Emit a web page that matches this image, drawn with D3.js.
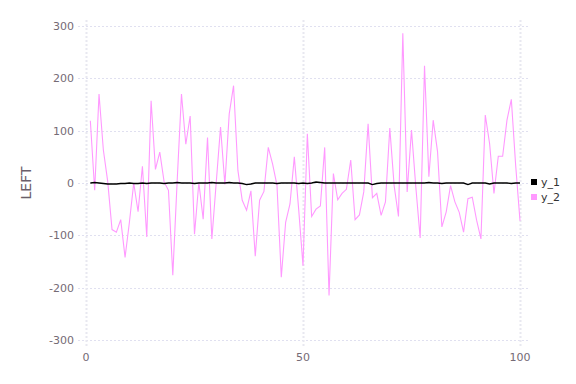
<!DOCTYPE html>
<html>
<head>
<meta charset="utf-8">
<script src="https://cdnjs.cloudflare.com/ajax/libs/d3/7.8.5/d3.min.js"></script>
<style>
body { margin: 0; background: #fff; }
svg text { font-family: "DejaVu Sans", sans-serif; }
</style>
</head>
<body>
<div id="chart"></div>
<script>
// series values, x = 1..100
var x_values = d3.range(1, 101);
var y_1 = [0, 1, 0, -1, -2, -2, -2, -1, -1, 0,
	-1, -1, 0, -1, 0, 0, 0, -1, 0, 0,
	1, 0, 0, 0, -1, 0, 0, 0, 1, 0,
	0, 0, 1, 0, 0, -1, -3, -2, 0, 0,
	0, 0, 0, -1, 0, 0, 0, 0, -1, 0,
	-1, 0, 2, 1, 0, 0, 0, 0, 0, 0,
	0, 0, 0, 0, 0, -3, -1, 0, 0, 0,
	0, 0, 0, 0, 0, 0, 0, 0, 1, 0,
	0, -1, 0, 0, 0, 0, 0, -3, 0, 0,
	0, 0, -2, 0, 0, 0, 0, -1, 0, 0];
var y_2 = [119, -14, 170, 63, 3, -89, -94, -70, -142, -75,
	0, -55, 32, -103, 157, 26, 59, 2, -14, -176,
	3, 170, 74, 128, -98, 1, -69, 87, -107, 0,
	107, -3, 132, 186, 24, -33, -52, -15, -140, -33,
	-16, 68, 36, -4, -180, -75, -40, 50, -50, -158,
	94, -64, -50, -44, 68, -215, 18, -32, -20, -12,
	44, -70, -61, -17, 113, -28, -20, -62, -36, 105,
	-5, -64, 286, -17, 101, -8, -105, 224, 12, 120,
	60, -84, -55, -5, -36, -56, -94, -30, -27, -71,
	-107, 130, 75, -20, 51, 51, 120, 160, 34, -72];
var series_names = ["y_1", "y_2"];
var series_colors = ["#000000", "#ff99ff"];
var x_ticks = [0, 50, 100];
var y_ticks = [-300, -200, -100, 0, 100, 200, 300];

var width = 576, height = 384;
var svg = d3.select("#chart")
	.append("svg")
	.attr("width", width)
	.attr("height", height);

var x = d3.scaleLinear().domain([0, 100]).range([86, 520]);
var y = d3.scaleLinear().domain([-300, 300]).range([340, 26]);

//grid lines
svg.selectAll("line.hgrid")
	.data(y_ticks)
	.enter()
	.append("line")
	.attr("class", "hgrid")
	.attr("x1", 78)
	.attr("x2", 528)
	.attr("y1", function (d) { return Math.round(y(d)) + 0.5; })
	.attr("y2", function (d) { return Math.round(y(d)) + 0.5; })
	.attr("stroke", "#e0e0f0")
	.attr("stroke-dasharray", "2,2");

svg.selectAll("line.vgrid")
	.data(x_ticks)
	.enter()
	.append("line")
	.attr("class", "vgrid")
	.attr("y1", 20)
	.attr("y2", 346)
	.attr("x1", function (d) { return Math.round(x(d)) + 0.5; })
	.attr("x2", function (d) { return Math.round(x(d)) + 0.5; })
	.attr("stroke", "#e8e8f0")
	.attr("stroke-width", 2)
	.attr("stroke-dasharray", "2,2");

//tick labels
svg.selectAll("text.ytick")
	.data(y_ticks)
	.enter()
	.append("text")
	.attr("class", "ytick")
	.text(function (d) { return d; })
	.attr("x", 74)
	.attr("y", function (d) { return y(d); })
	.attr("dy", "0.35em")
	.attr("text-anchor", "end")
	.attr("font-size", "11px")
	.attr("fill", "#756b75");

svg.selectAll("text.xtick")
	.data(x_ticks)
	.enter()
	.append("text")
	.attr("class", "xtick")
	.text(function (d) { return d; })
	.attr("x", function (d) { return x(d); })
	.attr("y", 361)
	.attr("text-anchor", "middle")
	.attr("font-size", "11px")
	.attr("fill", "#756b75");

svg.append("text")
	.text("LEFT")
	.attr("transform", "translate(31,183) rotate(-90)")
	.attr("text-anchor", "middle")
	.attr("font-size", "14px")
	.attr("fill", "#6a5f6a");

//lines
var all_series = [y_1, y_2];
for (var s = all_series.length - 1; s >= 0; s--) {
	var line = d3.line()
		.x(function (d, i) { return x(x_values[i]); })
		.y(function (d) { return y(d); });
	svg.append("path")
		.datum(all_series[s])
		.attr("d", line)
		.attr("fill", "none")
		.attr("stroke", series_colors[s])
		.attr("stroke-width", s === 0 ? 1.4 : 1.1);
}

//legend
svg.selectAll("rect.leg")
	.data(series_names)
	.enter()
	.append("rect")
	.attr("class", "leg")
	.attr("x", 531)
	.attr("y", function (d, i) { return 179 + i * 15; })
	.attr("width", 6)
	.attr("height", 6)
	.attr("fill", function (d, i) { return series_colors[i]; });

svg.selectAll("text.leg")
	.data(series_names)
	.enter()
	.append("text")
	.attr("class", "leg")
	.text(function (d) { return d; })
	.attr("x", 541)
	.attr("y", function (d, i) { return 182 + i * 15; })
	.attr("dy", "0.35em")
	.attr("font-size", "11px")
	.attr("fill", "#333");
</script>
</body>
</html>
